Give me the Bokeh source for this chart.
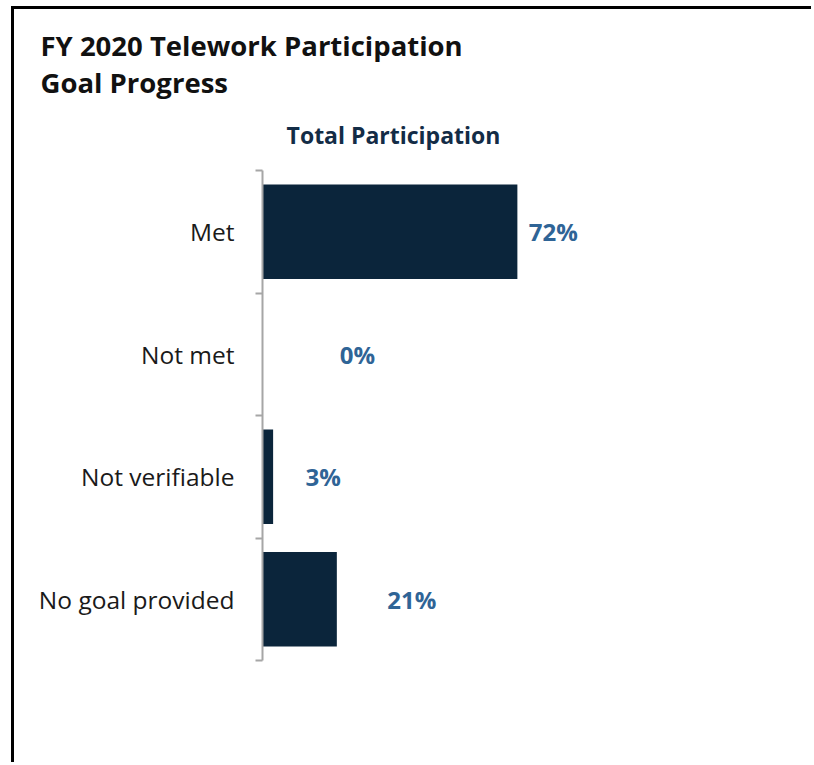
from bokeh.plotting import figure
from bokeh.models import (Range1d, FixedTicker, LinearAxis, Label, ColumnDataSource, LabelSet)
from bokeh.core.properties import value
from bokeh.embed import file_html
from bokeh.resources import INLINE

# ---- data ----
categories = ["Met", "Not met", "Not verifiable", "No goal provided"]
values = [72, 0, 3, 21]
value_labels = ["72%", "0%", "3%", "21%"]
# label offsets from bar end (pixels) as placed in the original
label_offsets_px = [36, 95, 50, 75]

title_lines = ["FY 2020 Telework Participation", "Goal Progress"]
subtitle = "Total Participation"

FONT = "Open Sans"
BAR_COLOR = "#0b253b"
LABEL_COLOR = "#2f6496"
AXIS_COLOR = "#a6a6a6"

# ---- geometry (page pixels; canvas starts at page x=14, y=9 because of the css border) ----
W, H = 800, 756
OX, OY = 14, 9
AXIS_X = 262            # page x of the value axis
PLOT_TOP, PLOT_BOTTOM = 170, 660
PX_PER_UNIT = 3.54
n = len(categories)
PX_PER_CAT = (PLOT_BOTTOM - PLOT_TOP) / n

def sx(page_x):
    return (page_x - AXIS_X) / PX_PER_UNIT

def sy(page_y):
    return (PLOT_BOTTOM - page_y) / PX_PER_CAT

p = figure(width=W, height=H, output_backend="svg", toolbar_location=None,
           x_range=Range1d(sx(OX), sx(OX + W)), y_range=Range1d(sy(OY + H), sy(OY)),
           min_border=0, y_axis_location=None, x_axis_location=None)
p.styles = {"border-left": "3px solid #000", "border-top": "3px solid #000",
            "margin-left": "11px", "margin-top": "6px"}
p.outline_line_color = None
p.xgrid.visible = False
p.ygrid.visible = False
p.background_fill_color = "white"
p.border_fill_color = "white"

centers = [n - i - 0.5 for i in range(n)]
src = ColumnDataSource(dict(y=centers, v=values, lab=value_labels,
                            lx=[v + o / PX_PER_UNIT for v, o in zip(values, label_offsets_px)]))
p.hbar(y="y", right="v", left=0, height=0.77, source=src, fill_color=BAR_COLOR, line_color=None)

ax = LinearAxis(ticker=FixedTicker(ticks=centers, minor_ticks=[float(k) for k in range(n + 1)]),
                major_label_overrides={c: cat for c, cat in zip(centers, categories)},
                fixed_location=0, bounds=(0, n))
ax.axis_line_color = AXIS_COLOR
ax.axis_line_width = 2
ax.major_tick_out = 0
ax.major_tick_in = 0
ax.minor_tick_out = 7
ax.minor_tick_in = 0
ax.minor_tick_line_color = AXIS_COLOR
ax.minor_tick_line_width = 2
ax.major_label_standoff = 21
ax.major_label_text_font = FONT
ax.major_label_text_font_size = "24.5px"
ax.major_label_text_color = "#1a1a1a"
p.add_layout(ax, "left")

ls = LabelSet(x="lx", y="y", text="lab", source=src, text_align="center", text_baseline="middle",
              text_font=value(FONT), text_font_size="24px", text_font_style="bold", text_color=LABEL_COLOR)
p.add_layout(ls)

for i, line in enumerate(title_lines):
    p.add_layout(Label(x=sx(40), y=sy(45 + 37 * i), text=line, text_align="left", text_baseline="middle",
                       text_font=FONT, text_font_size="27.5px", text_font_style="bold", text_color="#111111"))

p.add_layout(Label(x=sx(393), y=sy(134), text=subtitle, text_align="center", text_baseline="middle",
                   text_font=FONT, text_font_size="23px", text_font_style="bold", text_color="#132c46"))

open("out.html", "w").write(file_html(p, INLINE))
